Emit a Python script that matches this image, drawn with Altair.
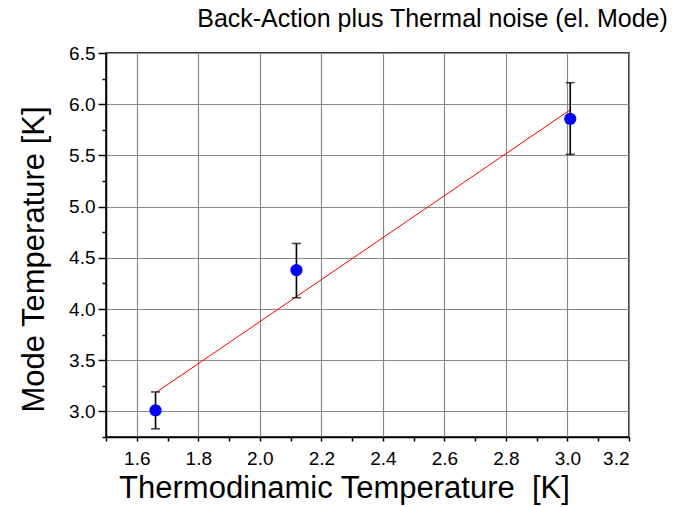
import altair as alt
import pandas as pd

# Data
thermo_T = [1.661, 2.119, 3.009]
mode_T = [3.01, 4.38, 5.857]
err_low = [2.83, 4.11, 5.51]
err_high = [3.19, 4.64, 6.21]

x_major = [1.6, 1.8, 2.0, 2.2, 2.4, 2.6, 2.8, 3.0, 3.2]
x_minor = [1.5, 1.7, 1.9, 2.1, 2.3, 2.5, 2.7, 2.9, 3.1]
y_major = [3.0, 3.5, 4.0, 4.5, 5.0, 5.5, 6.0, 6.5]
y_minor = [2.75, 3.25, 3.75, 4.25, 4.75, 5.25, 5.75, 6.25]

df = pd.DataFrame({"x": thermo_T, "y": mode_T, "lo": err_low, "hi": err_high})

FONT = "Liberation Sans"
GRID = "#8a8a8a"

x_axis = alt.Axis(
    values=x_major, format=".1f",
    title="Thermodinamic Temperature\u00a0 [K]",
    titleFontSize=31, titleFontWeight="normal", titleFont=FONT, titleColor="black",
    titlePadding=5, titleX=238,
    labelFontSize=19, labelFont=FONT, labelColor="black", labelPadding=8,
    labelOverlap=False,
    tickSize=4, tickColor="black", tickWidth=1.5,
    domainColor="black", domainWidth=1.5,
    grid=True, gridColor=GRID, gridWidth=1.2,
)

y_axis = alt.Axis(
    values=y_major, format=".1f",
    title="Mode Temperature [K]",
    titleFontSize=31, titleFontWeight="normal", titleFont=FONT, titleColor="black",
    titlePadding=18, titleY=206,
    labelFontSize=19, labelFont=FONT, labelColor="black", labelPadding=3,
    labelOverlap=False,
    tickSize=8, tickColor="black", tickWidth=1.5,
    domainColor="black", domainWidth=1.5,
    grid=True, gridColor=GRID, gridWidth=1.2,
)

x_axis_minor = alt.Axis(
    orient="bottom", values=x_minor, labels=False, title=None, grid=False,
    tickSize=4, tickColor="black", tickWidth=1.5, domain=False,
)
y_axis_minor = alt.Axis(
    orient="left", values=y_minor, labels=False, title=None, grid=False,
    tickSize=4, tickColor="black", tickWidth=1.5, domain=False,
)

xs = alt.Scale(domain=[1.5, 3.2], nice=False, zero=False)
ys = alt.Scale(domain=[2.75, 6.5], nice=False, zero=False)

base = alt.Chart(df)

fit = base.transform_regression("x", "y").mark_line(color="red", strokeWidth=1).encode(
    x=alt.X("x:Q", scale=xs, axis=x_axis),
    y=alt.Y("y:Q", scale=ys, axis=y_axis),
)

bars = base.mark_rule(color="black", strokeWidth=1.6).encode(
    x="x:Q", y="lo:Q", y2="hi:Q"
)
cap_lo = base.mark_tick(color="black", orient="horizontal", size=9, thickness=1.6).encode(
    x="x:Q", y="lo:Q"
)
cap_hi = base.mark_tick(color="black", orient="horizontal", size=9, thickness=1.6).encode(
    x="x:Q", y="hi:Q"
)
pts = base.mark_circle(color="#0000ff", size=150, opacity=1).encode(x="x:Q", y="y:Q")

main = alt.layer(fit, bars, cap_lo, cap_hi, pts)

minor = base.mark_point(opacity=0).encode(
    x=alt.X("x:Q", scale=xs, axis=x_axis_minor),
    y=alt.Y("y:Q", scale=ys, axis=y_axis_minor),
)

chart = (
    alt.layer(main, minor)
    .resolve_axis(x="independent", y="independent")
    .properties(
        width=523,
        height=384,
        padding={"left": 106, "top": 53, "right": 45, "bottom": 70},
        autosize=alt.AutoSizeParams(type="none"),
        background="white",
        title=alt.TitleParams(
            "Back-Action plus Thermal noise (el. Mode)",
            font=FONT, fontSize=25, fontWeight="normal", color="black",
            anchor="middle", dx=65, offset=12,
        ),
    )
    .configure_view(stroke="black", strokeWidth=1.5)
)

chart.save("out.html", embed_options={"renderer": "svg", "actions": False})
